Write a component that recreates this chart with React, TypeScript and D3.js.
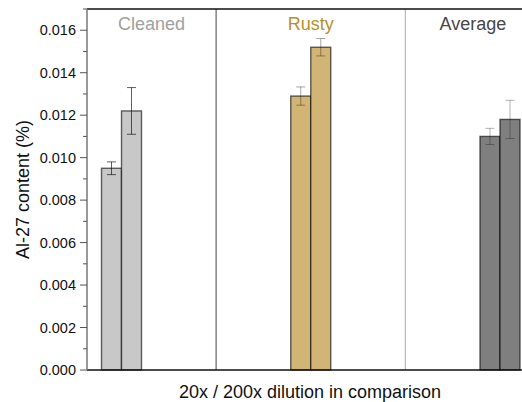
import React from "react";
import * as d3 from "d3";

// Sample groups and their two dilution measurements (20x, 200x)
const groups = ["Cleaned", "Rusty", "Average"];
const dil20 = [0.0095, 0.0129, 0.011];
const dil200 = [0.0122, 0.0152, 0.0118];
const err20 = [0.0003, 0.00043, 0.00038];
const err200 = [0.0011, 0.00041, 0.0009];
const yTicks = [0, 0.002, 0.004, 0.006, 0.008, 0.01, 0.012, 0.014, 0.016];
const yMinorTicks = [0.001, 0.003, 0.005, 0.007, 0.009, 0.011, 0.013, 0.015, 0.017];

const fills = ["#c8c8c8", "#d2b474", "#7f7f7f"];
const titleColors = ["#a0a0a0", "#b8902a", "#474747"];
const errColors = ["rgba(0,0,0,0.62)", "rgba(0,0,0,0.35)", "rgba(0,0,0,0.3)"];
const sepColors = ["#6e6e6e", "#bdbdbd"];

const W = 522;
const H = 402;
const left = 87;
const top = 9;
const bottom = 370;

export default function App() {
  const x = d3.scaleLinear().domain([-0.1823, 2.214]).range([left, left + 2.3963 * 189.25]);
  const y = d3.scaleLinear().domain([0, 0.017]).range([bottom, top]);
  const bw = x(0.1057) - x(0);
  const font = "'Liberation Sans', Arial, sans-serif";

  const bars = groups.flatMap((g, i) => [
    { g, i, k: 0, v: dil20[i], e: err20[i], x0: x(i) - bw },
    { g, i, k: 1, v: dil200[i], e: err200[i], x0: x(i) },
  ]);

  return (
    <svg
      width={W}
      height={H}
      style={{ position: "absolute", left: 0, top: 0, background: "#fff" }}
      fontFamily={font}
    >
      {/* section separators */}
      {[0.5, 1.5].map((s, j) => (
        <line key={s} x1={x(s)} x2={x(s)} y1={top} y2={bottom} stroke={sepColors[j]} strokeWidth={1.3} />
      ))}

      {/* group titles */}
      {groups.map((g, i) => {
        const lo = i === 0 ? x.domain()[0] : i - 0.5;
        const hi = i === 2 ? x.domain()[1] : i + 0.5;
        return (
          <text key={g} x={x((lo + hi) / 2)} y={30} textAnchor="middle" fontSize={18} fill={titleColors[i]}>
            {g}
          </text>
        );
      })}

      {/* bars */}
      {bars.map((b) => (
        <rect
          key={`${b.g}-${b.k}`}
          x={b.x0}
          y={y(b.v)}
          width={bw}
          height={bottom - y(b.v)}
          fill={fills[b.i]}
          stroke="rgba(0,0,0,0.6)"
          strokeWidth={1.4}
        />
      ))}

      {/* error bars */}
      {bars.map((b) => {
        const cx = b.x0 + bw / 2;
        const c = errColors[b.i];
        return (
          <g key={`e-${b.g}-${b.k}`} stroke={c} strokeWidth={1}>
            <line x1={cx} x2={cx} y1={y(b.v + b.e)} y2={y(b.v - b.e)} />
            <line x1={cx - 4.5} x2={cx + 4.5} y1={y(b.v + b.e)} y2={y(b.v + b.e)} />
            <line x1={cx - 4.5} x2={cx + 4.5} y1={y(b.v - b.e)} y2={y(b.v - b.e)} />
          </g>
        );
      })}

      {/* frame */}
      <line x1={left} x2={W} y1={top} y2={top} stroke="#111" strokeWidth={1.3} />
      <line x1={left} x2={W} y1={bottom} y2={bottom} stroke="#111" strokeWidth={1.3} />
      <line x1={left} x2={left} y1={top} y2={bottom} stroke="#777" strokeWidth={1.5} />

      {/* y axis ticks */}
      {yTicks.map((t) => (
        <g key={t}>
          <line x1={left - 7} x2={left} y1={y(t)} y2={y(t)} stroke="#555" strokeWidth={1} />
          <text x={left - 11} y={y(t) + 5} textAnchor="end" fontSize={14.5} fill="#111">
            {d3.format(".3f")(t)}
          </text>
        </g>
      ))}
      {yMinorTicks.map((t) => (
        <line key={t} x1={left - 4} x2={left} y1={y(t)} y2={y(t)} stroke="#555" strokeWidth={1} />
      ))}

      {/* axis titles */}
      <text
        transform={`translate(29,${(top + bottom) / 2}) rotate(-90)`}
        textAnchor="middle"
        fontSize={18}
        fill="#111"
      >
        Al-27 content (%)
      </text>
      <text x={310} y={398} textAnchor="middle" fontSize={18} fill="#111">
        20x / 200x dilution in comparison
      </text>
    </svg>
  );
}
